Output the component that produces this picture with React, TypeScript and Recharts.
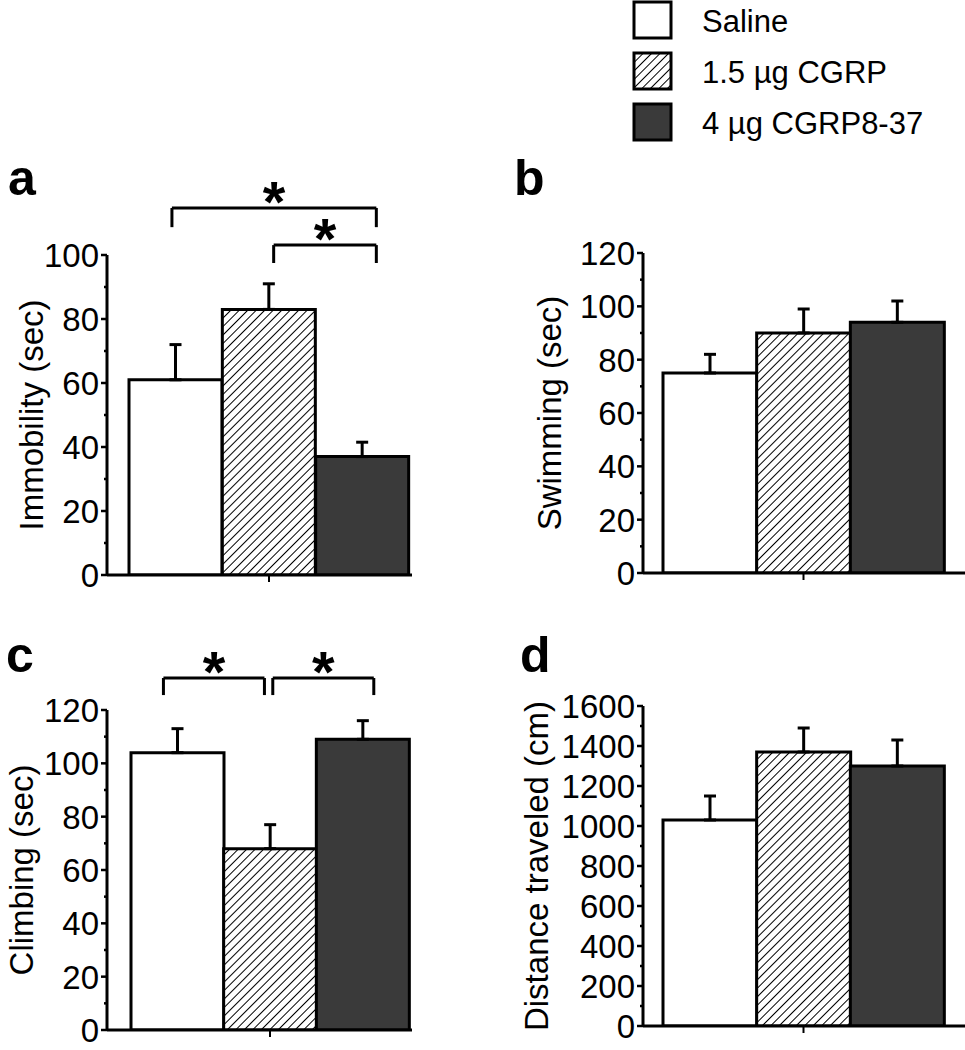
import React from "react";
import {
  BarChart,
  Bar,
  XAxis,
  YAxis,
  Cell,
  ErrorBar,
  ReferenceLine
} from "recharts";

// treatment groups (legend order, left to right in every panel)
const groups = ["Saline", "1.5 µg CGRP", "4 µg CGRP8-37"];

// means and SEM
const immobility = [61, 83, 37];
const immobilitySem = [11, 8, 4.5];
const swimming = [75, 90, 94];
const swimmingSem = [7, 9, 8];
const climbing = [104, 68, 109];
const climbingSem = [9, 9, 7];
const distance = [1030, 1370, 1300];
const distanceSem = [120, 120, 130];

// y ticks (every other one labelled)
const immobilityTicks = [0, 10, 20, 30, 40, 50, 60, 70, 80, 90, 100];
const secTicks120 = [0, 10, 20, 30, 40, 50, 60, 70, 80, 90, 100, 110, 120];
const distanceTicks = [0, 100, 200, 300, 400, 500, 600, 700, 800, 900, 1000, 1100, 1200, 1300, 1400, 1500, 1600];

const fills = ["#ffffff", "url(#hatch)", "#3a3a3a"];
const FONT = "'Liberation Sans', Arial, Helvetica, sans-serif";

const rowsOf = (vals: number[], sems: number[]) =>
  groups.map((g, i) => ({ name: g, pos: i + 0.5, value: vals[i], sem: [0, sems[i]] }));

type Bracket = { from: number; to: number; level: number; drop: number };

function Panel(props: any) {
  const {
    left, top, width, height, margin, yWidth, padding,
    data, ticks, majorStep, max, label, labelDx, brackets
  } = props;
  const plotBottom = height - margin.bottom - 20;
  return (
    <div style={{ position: "absolute", left, top }}>
      <BarChart
        width={width}
        height={height}
        data={data}
        margin={margin}
        barCategoryGap={0}
        barGap={0}
      >
        <XAxis
          dataKey="name"
          height={20}
          padding={padding}
          axisLine={{ stroke: "#000", strokeWidth: 3 }}
          tickLine={false}
          interval={0}
          tick={(p: any) =>
            p.index === 1 ? (
              <line x1={p.x} x2={p.x} y1={plotBottom} y2={plotBottom + 7} stroke="#000" strokeWidth={2} />
            ) : (
              <g />
            )
          }
        />
        <XAxis
          xAxisId="n"
          dataKey="pos"
          type="number"
          domain={[0, 3]}
          allowDataOverflow
          hide
          padding={padding}
        />
        <YAxis
          width={yWidth}
          domain={[0, max]}
          ticks={ticks}
          interval={0}
          allowDataOverflow
          axisLine={{ stroke: "#000", strokeWidth: 3 }}
          tickLine={false}
          tick={(p: any) => {
            const v = p.payload.value;
            const major = v % majorStep === 0;
            return (
              <g>
                <line x1={yWidth - (major ? 6 : 3)} x2={yWidth} y1={p.y} y2={p.y} stroke="#000" strokeWidth={2.5} />
                {major && (
                  <text x={yWidth - 8} y={p.y} dy="0.36em" textAnchor="end" fontSize={33} fontFamily={FONT} fill="#000">
                    {v}
                  </text>
                )}
              </g>
            );
          }}
          label={{
            value: label,
            angle: -90,
            position: "center",
            dx: labelDx,
            fontSize: 33,
            fontFamily: FONT,
            fill: "#000"
          }}
        />
        <Bar dataKey="value" stroke="#000" strokeWidth={3} isAnimationActive={false}>
          {data.map((d: any, i: number) => (
            <Cell key={d.name} fill={fills[i]} />
          ))}
          <ErrorBar dataKey="sem" direction="y" width={6} stroke="#000" strokeWidth={3} />
        </Bar>
        {brackets.map((b: Bracket, i: number) => (
          <ReferenceLine
            key={"h" + i}
            xAxisId="n"
            ifOverflow="visible"
            stroke="#000"
            strokeWidth={3}
            segment={[{ x: b.from, y: b.level }, { x: b.to, y: b.level }]}
            label={{
              value: "*",
              position: "top",
              offset: -14,
              fontSize: 58,
              fontWeight: 700,
              fontFamily: FONT,
              fill: "#000"
            }}
          />
        ))}
        {brackets.flatMap((b: Bracket, i: number) =>
          [b.from, b.to].map((x, k) => (
            <ReferenceLine
              key={"v" + i + k}
              xAxisId="n"
              ifOverflow="visible"
              stroke="#000"
              strokeWidth={3}
              segment={[{ x, y: b.level }, { x, y: b.level - b.drop }]}
            />
          ))
        )}
      </BarChart>
    </div>
  );
}

export default function App() {
  const letter = { fontSize: 50, fontWeight: 700, fontFamily: FONT, fill: "#000" };
  const legendText = { fontSize: 31, fontFamily: FONT, fill: "#000" };
  return (
    <div style={{ position: "absolute", left: 0, top: 0, width: 965, height: 1050, background: "#fff" }}>
      <svg width={965} height={1050} style={{ position: "absolute", left: 0, top: 0 }}>
        <defs>
          <pattern id="hatch" patternUnits="userSpaceOnUse" width="6" height="6" patternTransform="rotate(45)">
            <rect width="6" height="6" fill="#fff" />
            <line x1="0" y1="0" x2="0" y2="6" stroke="#000" strokeWidth="2" />
          </pattern>
        </defs>
        {groups.map((g, i) => (
          <g key={g}>
            <rect x={634} y={2 + i * 51} width={37} height={36} fill={fills[i]} stroke="#000" strokeWidth={3} />
            <text x={702} y={32 + i * 51} {...legendText}>{g}</text>
          </g>
        ))}
        <text x={8} y={195} {...letter}>a</text>
        <text x={514} y={195} {...letter}>b</text>
        <text x={6} y={672} {...letter}>c</text>
        <text x={520} y={672} {...letter}>d</text>
      </svg>

      <Panel
        left={0} top={150} width={420} height={470}
        margin={{ top: 105, right: 8, bottom: 25, left: 0 }}
        yWidth={107} padding={{ left: 22, right: 3 }}
        data={rowsOf(immobility, immobilitySem)}
        ticks={immobilityTicks} majorStep={20} max={100}
        label="Immobility (sec)" labelDx={-22}
        brackets={[
          { from: 0.46, to: 2.65, level: 114.7, drop: 6 },
          { from: 1.55, to: 2.65, level: 103.1, drop: 5.6 }
        ]}
      />
      <Panel
        left={480} top={150} width={485} height={470}
        margin={{ top: 103, right: 0, bottom: 27, left: 0 }}
        yWidth={163} padding={{ left: 20, right: 21 }}
        data={rowsOf(swimming, swimmingSem)}
        ticks={secTicks120} majorStep={20} max={120}
        label="Swimming (sec)" labelDx={-12}
        brackets={[]}
      />
      <Panel
        left={0} top={620} width={420} height={430}
        margin={{ top: 90, right: 8, bottom: 0, left: 0 }}
        yWidth={107} padding={{ left: 24, right: 3 }}
        data={rowsOf(climbing, climbingSem)}
        ticks={secTicks120} majorStep={20} max={120}
        label="Climbing (sec)" labelDx={-32}
        brackets={[
          { from: 0.35, to: 1.44, level: 132, drop: 6.4 },
          { from: 1.53, to: 2.62, level: 132, drop: 6.4 }
        ]}
      />
      <Panel
        left={480} top={620} width={485} height={430}
        margin={{ top: 86, right: 0, bottom: 4, left: 0 }}
        yWidth={163} padding={{ left: 20, right: 21 }}
        data={rowsOf(distance, distanceSem)}
        ticks={distanceTicks} majorStep={200} max={1600}
        label="Distance traveled (cm)" labelDx={-25}
        brackets={[]}
      />
    </div>
  );
}
